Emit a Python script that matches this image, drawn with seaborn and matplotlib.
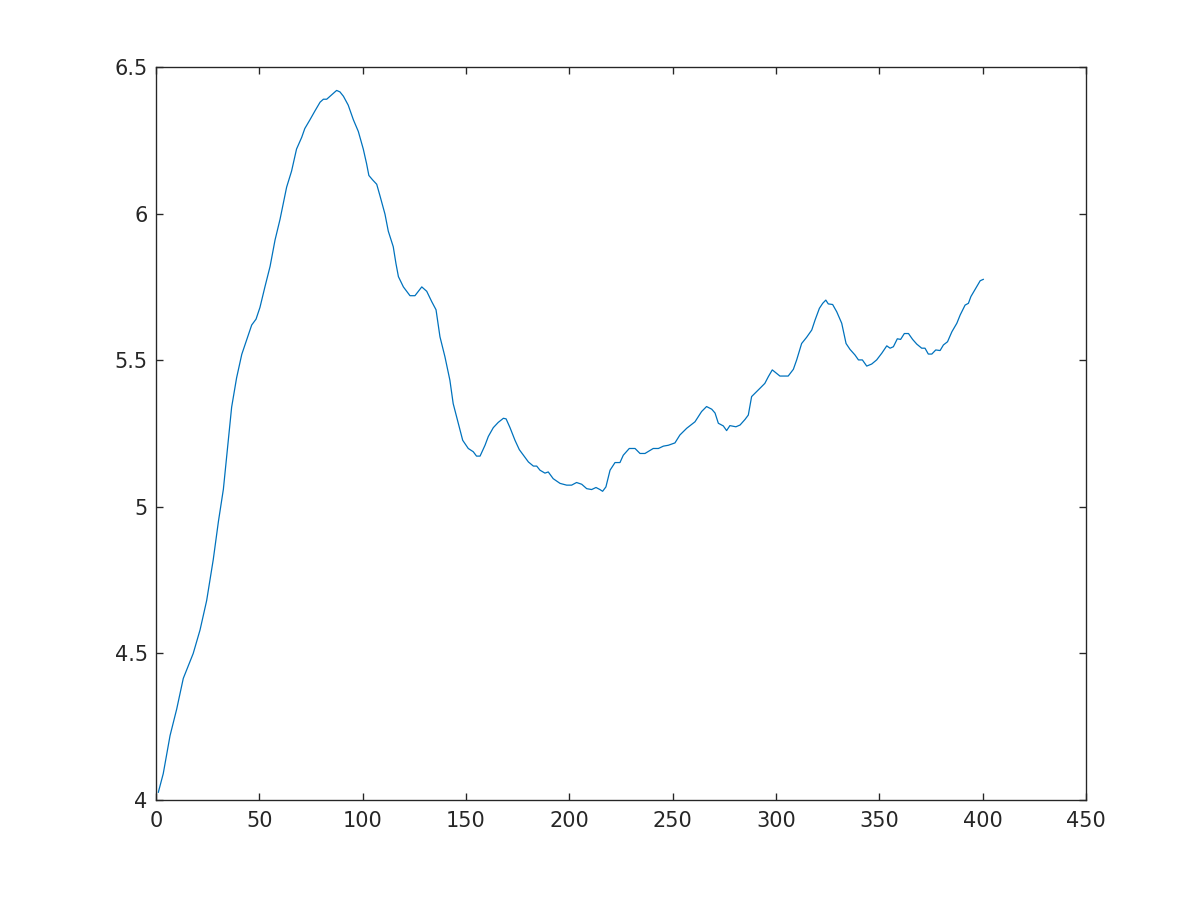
import numpy as np
import pandas as pd
import matplotlib
matplotlib.use('Agg')
import matplotlib.pyplot as plt
import seaborn as sns
from matplotlib.ticker import FormatStrFormatter

# values (x, y)
x_vals = [1.1, 3.5, 6.8, 10, 13.2, 18, 21.3, 24.5, 27.7, 30.2, 32.6, 35, 36.6, 39, 41.5, 43.9,
          46.3, 48.4, 50.3, 52.7, 55.2, 57.6, 60, 61.6, 63.2, 65.6, 68, 70.5, 72, 74.5, 76.9,
          79.4, 81, 82.6, 84.2, 85.8, 87.4, 89, 90.7, 93, 95.5, 97.9, 100.3, 101.9, 103, 104.8,
          106.8, 108.4, 110.8, 112.4, 114.8, 116.1, 117.3, 119.7, 122.9, 125.3, 128.6, 131,
          133.4, 135.5, 137.4, 139.8, 142.2, 143.8, 146.3, 148.4, 151.1, 153.5, 155.1, 156.8,
          159.2, 160.8, 163.2, 165.6, 168.1, 169.4, 171.3, 173.7, 175.8, 177.8, 180.2, 182.6,
          184.2, 185.8, 188.2, 189.8, 192.2, 195.5, 198.7, 201.1, 203.5, 206, 208.4, 210.8,
          212.9, 214.8, 216.1, 217.7, 219.7, 222.1, 224.5, 226.1, 229, 231.8, 234.2, 236.6,
          240.6, 243.1, 245.5, 247.9, 251.1, 253.5, 256.8, 260.8, 264, 266.4, 268.9, 270.5,
          272.1, 274.5, 276.1, 277.7, 280.6, 282.6, 285, 286.6, 288.2, 289.8, 292.2, 294.6,
          296.3, 298.2, 300.3, 301.9, 305.9, 308.4, 310, 312.4, 314.8, 317.3, 318.9, 321,
          322.6, 324.1, 325.3, 327.4, 329.4, 331.8, 333.9, 335.8, 338.2, 339.9, 341.8, 343.9,
          346.3, 348.7, 351.2, 353.6, 355.2, 356.8, 358.7, 360.3, 362.1, 364.1, 366.1, 368.1,
          370.5, 372.1, 373.7, 375.4, 377.3, 379.4, 381, 383, 385.1, 387.5, 389.1, 391.5,
          393.1, 394.3, 396.4, 398.8, 400.4]
y_vals = [4.026, 4.09, 4.22, 4.31, 4.415, 4.50, 4.58, 4.68, 4.82, 4.95, 5.06, 5.23, 5.34, 5.44,
          5.52, 5.57, 5.62, 5.64, 5.68, 5.75, 5.82, 5.91, 5.98, 6.035, 6.09, 6.145, 6.22, 6.26,
          6.29, 6.32, 6.35, 6.38, 6.39, 6.39, 6.40, 6.41, 6.42, 6.415, 6.40, 6.37, 6.32, 6.28,
          6.22, 6.17, 6.13, 6.115, 6.10, 6.06, 5.998, 5.94, 5.887, 5.83, 5.785, 5.75, 5.72,
          5.72, 5.75, 5.735, 5.70, 5.672, 5.58, 5.512, 5.432, 5.352, 5.284, 5.227, 5.199, 5.188,
          5.173, 5.173, 5.21, 5.24, 5.27, 5.288, 5.302, 5.30, 5.27, 5.227, 5.195, 5.176, 5.153,
          5.139, 5.139, 5.125, 5.115, 5.119, 5.096, 5.08, 5.074, 5.074, 5.083, 5.077, 5.062,
          5.059, 5.066, 5.059, 5.053, 5.068, 5.125, 5.151, 5.151, 5.176, 5.199, 5.199, 5.182,
          5.182, 5.199, 5.199, 5.207, 5.21, 5.218, 5.245, 5.268, 5.29, 5.325, 5.342, 5.333,
          5.32, 5.285, 5.276, 5.26, 5.277, 5.273, 5.279, 5.298, 5.313, 5.376, 5.387, 5.404,
          5.421, 5.444, 5.467, 5.455, 5.446, 5.446, 5.469, 5.501, 5.557, 5.578, 5.603, 5.637,
          5.677, 5.694, 5.705, 5.692, 5.69, 5.665, 5.626, 5.557, 5.537, 5.518, 5.501, 5.501,
          5.48, 5.487, 5.501, 5.524, 5.549, 5.541, 5.546, 5.573, 5.571, 5.591, 5.591, 5.571,
          5.555, 5.541, 5.541, 5.521, 5.521, 5.535, 5.533, 5.552, 5.563, 5.597, 5.626, 5.654,
          5.688, 5.694, 5.717, 5.742, 5.771, 5.776]

x_ticks = [0, 50, 100, 150, 200, 250, 300, 350, 400, 450]
y_ticks = [4, 4.5, 5, 5.5, 6, 6.5]

df = pd.DataFrame({'x': x_vals, 'y': y_vals})

sns.set_style('white')
plt.rcParams['font.family'] = ['DejaVu Sans']

fig = plt.figure(figsize=(8, 6), dpi=150)
ax = fig.add_axes([0.13, 0.111, 0.775, 0.8146])
sns.lineplot(data=df, x='x', y='y', ax=ax, color='#0072BD', linewidth=0.6, sort=False)

ax.set_xlim(0, 450)
ax.set_ylim(4, 6.5)
ax.set_xticks(x_ticks)
ax.set_yticks(y_ticks)
ax.yaxis.set_major_formatter(FormatStrFormatter('%g'))
ax.set_xlabel('')
ax.set_ylabel('')
for s in ax.spines.values():
    s.set_color('#262626')
    s.set_linewidth(0.65)
ax.tick_params(direction='in', length=3.5, width=0.65, color='#262626', labelcolor='#262626',
               labelsize=10, top=True, right=True, bottom=True, left=True)
ax.tick_params(axis='x', pad=5)
ax.tick_params(axis='y', pad=4)

fig.savefig('out.png', dpi=150, facecolor='white')
